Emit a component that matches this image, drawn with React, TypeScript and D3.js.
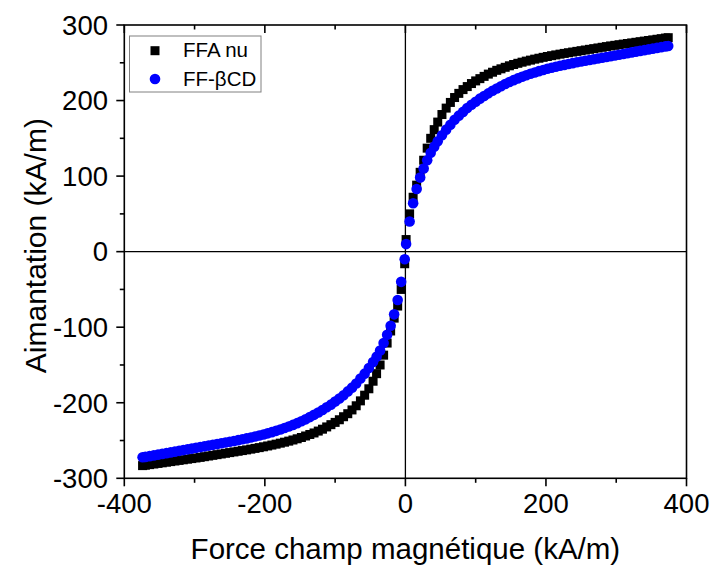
import React from "react";
import * as d3 from "d3";

// Field values (kA/m), positive half of the sweep; the negative half is the mirror image
const H_POS = [1, 6, 11, 16, 21, 26, 31, 36, 41, 46, 52, 58, 64, 70, 76, 82, 88, 94, 100, 106, 112, 118, 124, 130, 136, 142, 148, 154, 160, 166, 172, 178, 184, 190, 196, 202, 208, 214, 220, 226, 232, 238, 244, 250, 256, 262, 268, 274, 280, 286, 292, 298, 304, 310, 316, 322, 328, 334, 340, 346, 352, 358, 364, 370, 374];

// FFA nu magnetisation (kA/m)
const M_FFA = [16, 50, 72, 88, 105, 121, 137, 150, 161.5, 171.5, 181.5, 190, 197.5, 204, 209.5, 214.5, 218.5, 222.5, 226, 229, 232, 235, 237.5, 240, 242, 244, 246, 247.7, 249.3, 250.8, 252.2, 253.5, 254.8, 256, 257.2, 258.3, 259.4, 260.4, 261.4, 262.4, 263.3, 264.2, 265.1, 266, 266.9, 267.8, 268.7, 269.6, 270.5, 271.4, 272.3, 273.1, 273.9, 274.7, 275.5, 276.3, 277.1, 277.9, 278.7, 279.5, 280.3, 281.1, 281.9, 282.7, 283.2];

// FF-βCD magnetisation (kA/m)
const M_BCD = [10, 40, 64, 83, 98, 110, 121, 131, 139, 146, 154, 161.5, 168, 174.5, 180, 185, 190, 194.5, 198.5, 202.5, 206, 209.5, 213, 216, 219, 222, 224.5, 227, 229.3, 231.5, 233.5, 235.4, 237.2, 238.9, 240.5, 242, 243.4, 244.7, 246, 247.2, 248.4, 249.5, 250.6, 251.7, 252.7, 253.7, 254.7, 255.7, 256.7, 257.7, 258.7, 259.7, 260.7, 261.7, 262.7, 263.7, 264.7, 265.7, 266.7, 267.7, 268.7, 269.7, 270.7, 271.7, 272.2];

const X_MAJOR = [-400, -200, 0, 200, 400];
const X_MINOR = [-300, -100, 100, 300];
const Y_MAJOR = [-300, -200, -100, 0, 100, 200, 300];
const Y_MINOR = [-250, -150, -50, 50, 150, 250];

const SERIES_NAMES = ["FFA nu", "FF-βCD"];
const X_TITLE = "Force champ magnétique (kA/m)";
const Y_TITLE = "Aimantation (kA/m)";

const FONT = "'Liberation Sans', Arial, Helvetica, sans-serif";

function fullSweep(h: number[], m: number[]) {
  const pts: [number, number][] = [];
  for (let i = h.length - 1; i >= 0; i--) pts.push([-h[i], -m[i]]);
  for (let i = 0; i < h.length; i++) pts.push([h[i], m[i]]);
  return pts;
}

export default function App() {
  const W = 711;
  const Hh = 567;
  const left = 124.3;
  const right = 686.5;
  const top = 25;
  const bottom = 478.3;

  const x = d3.scaleLinear().domain([-400, 400]).range([left, right]);
  const y = d3.scaleLinear().domain([-300, 300]).range([bottom, top]);

  const ffa = fullSweep(H_POS, M_FFA);
  const bcd = fullSweep(H_POS, M_BCD);

  const sq = 9;
  const r = 5.3;
  const axisW = 1.6;

  return (
    <svg
      width={W}
      height={Hh}
      style={{ position: "absolute", left: 0, top: 0, background: "#fff" }}
      fontFamily={FONT}
    >
      <rect x={0} y={0} width={W} height={Hh} fill="#fff" />
      {/* zero lines */}
      <line x1={left} x2={right} y1={y(0)} y2={y(0)} stroke="#000" strokeWidth={1.3} />
      <line x1={x(0)} x2={x(0)} y1={top} y2={bottom} stroke="#000" strokeWidth={1.3} />

      {/* data */}
      <g>
        {ffa.map((p, i) => (
          <rect key={"a" + i} x={x(p[0]) - sq / 2} y={y(p[1]) - sq / 2} width={sq} height={sq} fill="#000" />
        ))}
      </g>
      <g>
        {bcd.map((p, i) => (
          <circle key={"b" + i} cx={x(p[0])} cy={y(p[1])} r={r} fill="#0000ff" />
        ))}
      </g>

      {/* frame */}
      <rect x={left} y={top} width={right - left} height={bottom - top} fill="none" stroke="#000" strokeWidth={axisW} />

      {/* bottom ticks (outward) and top ticks (inward) */}
      {X_MAJOR.map((v) => (
        <g key={"xm" + v}>
          <line x1={x(v)} x2={x(v)} y1={bottom} y2={bottom + 8} stroke="#000" strokeWidth={axisW} />
          <line x1={x(v)} x2={x(v)} y1={top} y2={top + 8} stroke="#000" strokeWidth={axisW} />
          <text x={x(v)} y={513} textAnchor="middle" fontSize={27.5} fill="#000">
            {v}
          </text>
        </g>
      ))}
      {X_MINOR.map((v) => (
        <g key={"xn" + v}>
          <line x1={x(v)} x2={x(v)} y1={bottom} y2={bottom + 4.5} stroke="#000" strokeWidth={axisW} />
          <line x1={x(v)} x2={x(v)} y1={top} y2={top + 4.5} stroke="#000" strokeWidth={axisW} />
        </g>
      ))}

      {/* left ticks (outward) */}
      {Y_MAJOR.map((v) => (
        <g key={"ym" + v}>
          <line x1={left - 8} x2={left} y1={y(v)} y2={y(v)} stroke="#000" strokeWidth={axisW} />
          <text x={108} y={y(v) + 9.8} textAnchor="end" fontSize={27.5} fill="#000">
            {v}
          </text>
        </g>
      ))}
      {Y_MINOR.map((v) => (
        <line key={"yn" + v} x1={left - 4.5} x2={left} y1={y(v)} y2={y(v)} stroke="#000" strokeWidth={axisW} />
      ))}

      {/* axis titles */}
      <text x={(left + right) / 2} y={559} textAnchor="middle" fontSize={29.5} fill="#000">
        {X_TITLE}
      </text>
      <text
        transform={`translate(46, ${(top + bottom) / 2 - 6}) rotate(-90)`}
        textAnchor="middle"
        fontSize={30}
        fill="#000"
      >
        {Y_TITLE}
      </text>

      {/* legend */}
      <rect x={129.5} y={36} width={131.5} height={56} fill="#fff" stroke="#808080" strokeWidth={1} />
      <rect x={155 - sq / 2} y={50.7 - sq / 2} width={sq} height={sq} fill="#000" />
      <circle cx={155} cy={79} r={r} fill="#0000ff" />
      <text x={183} y={57} fontSize={20.5} fill="#000">
        {SERIES_NAMES[0]}
      </text>
      <text x={183} y={85.5} fontSize={20.5} fill="#000">
        {SERIES_NAMES[1]}
      </text>
    </svg>
  );
}
